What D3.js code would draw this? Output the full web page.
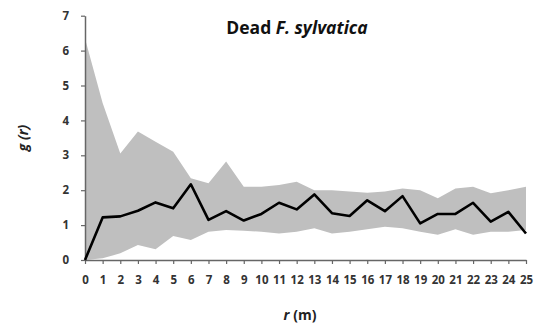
<!DOCTYPE html>
<html>
<head>
<meta charset="utf-8">
<script src="https://cdn.jsdelivr.net/npm/d3@7"></script>
<style>
  body{margin:0;background:#fff;}
  text{font-family:"Open Sans","Liberation Sans",sans-serif;}
</style>
</head>
<body>
<svg id="chart" width="534" height="327"></svg>
<script>
// data
var dist  = d3.range(0,26);
var gr    = [0,1.22,1.25,1.41,1.65,1.48,2.17,1.15,1.4,1.13,1.32,1.64,1.45,1.88,1.34,1.26,1.71,1.4,1.83,1.05,1.32,1.32,1.64,1.1,1.38,0.76];
var upper = [6.35,4.5,3.05,3.68,3.39,3.1,2.34,2.2,2.82,2.1,2.1,2.15,2.24,2.0,2.0,1.96,1.93,1.96,2.05,2.0,1.77,2.05,2.1,1.91,2.0,2.1];
var lower = [0,0.05,0.19,0.43,0.31,0.69,0.57,0.81,0.86,0.84,0.81,0.76,0.81,0.91,0.76,0.81,0.88,0.95,0.91,0.81,0.72,0.88,0.72,0.81,0.81,0.86];
var yticks = d3.range(0,8);

var svg = d3.select('#chart');
var x = d3.scaleLinear().domain([0,25]).range([85,526]);
var y = d3.scaleLinear().domain([0,7]).range([260,15.7]);

// envelope
var area = d3.area().x(function(d,i){return x(dist[i]);})
  .y0(function(d,i){return y(lower[i]);})
  .y1(function(d,i){return y(upper[i]);});
svg.append('path').datum(upper).attr('d',area).attr('fill','#bfbfbf');

// axes
var xa = svg.append('g').attr('transform','translate(0,'+y(0)+')')
  .call(d3.axisBottom(x).tickValues(dist).tickFormat(d3.format('d')).tickSize(4).tickSizeOuter(0).tickPadding(12));
var ya = svg.append('g').attr('transform','translate('+x(0)+',0)')
  .call(d3.axisLeft(y).tickValues(yticks).tickFormat(d3.format('d')).tickSize(4).tickSizeOuter(0).tickPadding(12));
[xa,ya].forEach(function(a){
  a.select('.domain').attr('stroke','#666').attr('stroke-width',1.5);
  a.selectAll('.tick line').attr('stroke','#666').attr('stroke-width',1.2);
  a.selectAll('.tick text').attr('fill','#333').style('font-size','11.5px').style('font-weight','bold');
});

// g(r) line
var line = d3.line().x(function(d,i){return x(dist[i]);}).y(function(d){return y(d);});
svg.append('path').datum(gr).attr('d',line).attr('fill','none')
  .attr('stroke','#000').attr('stroke-width',2.6).attr('stroke-linejoin','round');

// title
var t = svg.append('text').attr('x',297).attr('y',34).attr('text-anchor','middle')
  .style('font-size','17.5px').style('font-weight','bold').attr('fill','#111');
t.append('tspan').text('Dead ');
t.append('tspan').style('font-style','italic').text('F. sylvatica');

// axis titles
var xl = svg.append('text').attr('x',300).attr('y',320).attr('text-anchor','middle')
  .style('font-size','14px').style('font-weight','bold').attr('fill','#222');
xl.append('tspan').style('font-style','italic').text('r');
xl.append('tspan').text(' (m)');
var yl = svg.append('text').attr('transform','translate(28,138) rotate(-90)').attr('text-anchor','middle')
  .style('font-size','14px').style('font-weight','bold').style('font-style','italic').attr('fill','#222');
yl.text('g (r)');
</script>
</body>
</html>
